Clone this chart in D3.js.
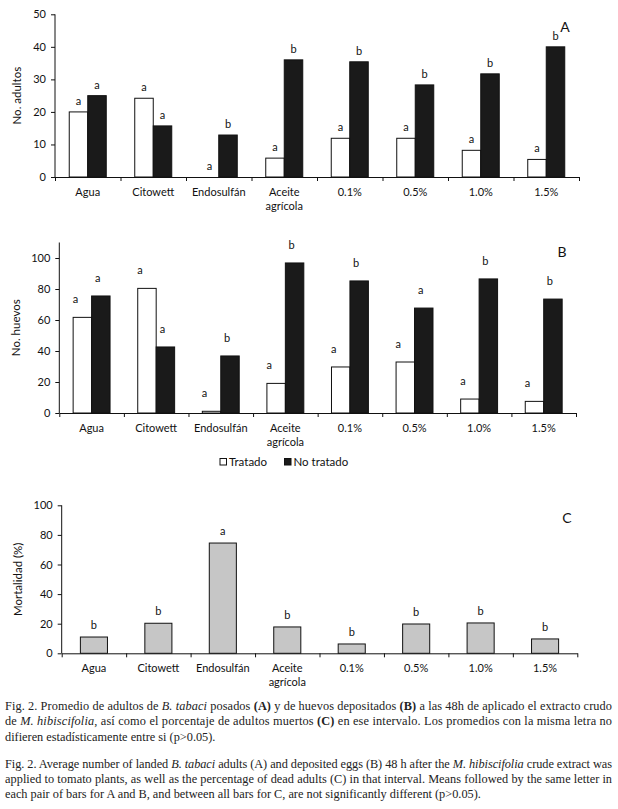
<!DOCTYPE html>
<html>
<head>
<meta charset="utf-8">
<script src="https://cdn.jsdelivr.net/npm/d3@7"></script>
<style>
  body { margin: 0; background: #fff; }
  svg text { font-family: Lato, 'Open Sans', sans-serif; fill: #111; }
  .caption text { font-family: 'Liberation Serif', 'Times New Roman', serif; font-size: 12.3px; fill: #222; }
</style>
</head>
<body>
<script>
// Fig. 2 - B. tabaci adults, eggs and mortality

const categories = ['Agua', 'Citowett', 'Endosulfán', 'Aceite agrícola', '0.1%', '0.5%', '1.0%', '1.5%']

const adultosTratado = [20, 24.2, 0, 5.8, 11.9, 11.9, 8.2, 5.4]
const adultosNoTratado = [25, 15.7, 12.9, 36, 35.4, 28.3, 31.7, 40]
const adultosLetrasT = ['a', 'a', 'a', 'a', 'a', 'a', 'a', 'a']
const adultosLetrasN = ['a', 'a', 'b', 'b', 'b', 'b', 'b', 'b']
const adultosTicks = [0, 10, 20, 30, 40, 50]

const huevosTratado = [61.7, 80.4, 1.1, 19.1, 29.7, 32.9, 9, 7.5]
const huevosNoTratado = [75.5, 42.6, 36.8, 96.8, 85.2, 67.7, 86.5, 73.5]
const huevosLetrasT = ['a', 'a', 'a', 'a', 'a', 'a', 'a', 'a']
const huevosLetrasN = ['a', 'a', 'b', 'b', 'b', 'a', 'b', 'b']
const huevosTicks = [0, 20, 40, 60, 80, 100]

const mortalidad = [11, 20.3, 74.5, 17.8, 6.3, 19.8, 20.5, 9.7]
const mortalidadLetras = ['b', 'b', 'a', 'b', 'b', 'b', 'b', 'b']
const mortalidadTicks = [0, 20, 40, 60, 80, 100]

const legendLabels = ['Tratado', 'No tratado']

const W = 618
const H = 809

const svg = d3.select('body').append('svg')
  .attr('width', W)
  .attr('height', H)

svg.append('rect').attr('width', W).attr('height', H).attr('fill', '#fff')

function drawFrame (cfg) {
  const g = svg.append('g')
  const x = d3.scaleBand().domain(categories).range([cfg.left, cfg.right])
  const y = d3.scaleLinear().domain([0, cfg.max]).range([cfg.bottom, cfg.top])

  // y axis
  const yAxis = g.append('g')
    .attr('transform', `translate(${cfg.left},0)`)
    .call(d3.axisLeft(y).tickValues(cfg.ticks).tickSize(4).tickSizeOuter(0).tickPadding(5))
  yAxis.selectAll('text').attr('font-size', 11).attr('font-family', null)
  yAxis.select('.domain').attr('d', `M0,${y(0)}V${y(cfg.max)}`)

  // x axis, ticks at category boundaries
  const xb = d3.scaleLinear().domain([0, categories.length]).range([cfg.left, cfg.right])
  const xAxis = g.append('g')
    .attr('transform', `translate(0,${cfg.bottom})`)
    .call(d3.axisBottom(xb).ticks(categories.length).tickSize(4).tickSizeOuter(0).tickFormat(''))
  xAxis.selectAll('path, line').attr('stroke', '#111')
  yAxis.selectAll('path, line').attr('stroke', '#111')

  // category labels
  const lab = g.append('g').selectAll('text').data(categories).join('text')
    .attr('x', d => x(d) + x.bandwidth() / 2)
    .attr('y', cfg.bottom + 18.5)
    .attr('text-anchor', 'middle')
    .attr('font-size', 11)
  lab.each(function (d) {
    const words = d.split(' ')
    d3.select(this).selectAll('tspan').data(words).join('tspan')
      .attr('x', x(d) + x.bandwidth() / 2)
      .attr('dy', (w, i) => i === 0 ? 0 : 14.5)
      .text(w => w)
  })

  // y title
  g.append('text')
    .attr('transform', `translate(${cfg.titleX},${(cfg.top + cfg.bottom) / 2}) rotate(-90)`)
    .attr('text-anchor', 'middle')
    .attr('font-size', 11.5)
    .text(cfg.title)

  // panel letter
  g.append('text')
    .attr('x', cfg.letterX)
    .attr('y', cfg.letterY)
    .attr('text-anchor', 'middle')
    .attr('font-size', 14)
    .text(cfg.letter)

  return { g, x, y }
}

function drawPairs (cfg, tratado, noTratado, letrasT, letrasN) {
  const { g, x, y } = drawFrame(cfg)
  const x1 = d3.scaleBand().domain(['t', 'n']).range([0, x.bandwidth()]).paddingOuter(cfg.outer)
  const rows = categories.map((c, i) => ({ c, t: tratado[i], n: noTratado[i], lt: letrasT[i], ln: letrasN[i] }))

  const bars = g.append('g')
  bars.selectAll('rect.t').data(rows.filter(d => d.t > 0)).join('rect')
    .attr('class', 't')
    .attr('x', d => x(d.c) + x1('t'))
    .attr('y', d => y(d.t))
    .attr('width', x1.bandwidth())
    .attr('height', d => y(0) - y(d.t))
    .attr('fill', '#fff')
    .attr('stroke', '#111')
    .attr('stroke-width', 1)
  bars.selectAll('rect.n').data(rows).join('rect')
    .attr('class', 'n')
    .attr('x', d => x(d.c) + x1('n'))
    .attr('y', d => y(d.n))
    .attr('width', x1.bandwidth())
    .attr('height', d => y(0) - y(d.n))
    .attr('fill', '#1a1a1a')
    .attr('stroke', '#111')
    .attr('stroke-width', 1)

  const labels = g.append('g').attr('font-size', 11).attr('text-anchor', 'middle')
  labels.selectAll('text.t').data(rows).join('text')
    .attr('class', 't')
    .attr('x', d => x(d.c) + x1('t') + x1.bandwidth() / 2 + cfg.shiftT)
    .attr('y', d => y(d.t) - cfg.gap)
    .text(d => d.lt)
  labels.selectAll('text.n').data(rows).join('text')
    .attr('class', 'n')
    .attr('x', d => x(d.c) + x1('n') + x1.bandwidth() / 2 + cfg.shiftN)
    .attr('y', d => y(d.n) - cfg.gap)
    .text(d => d.ln)
}

// A
drawPairs({
  left: 55, right: 579, bottom: 177, top: 14.3, max: 50, ticks: adultosTicks,
  title: 'No. adultos', titleX: 21, letter: 'A', letterX: 565, letterY: 31.5,
  outer: 0.77, gap: 7, shiftT: 0, shiftN: 0
}, adultosTratado, adultosNoTratado, adultosLetrasT, adultosLetrasN)

// B
drawPairs({
  left: 59.3, right: 576, bottom: 413, top: 242.5, max: 110, ticks: huevosTicks,
  title: 'No. huevos', titleX: 20, letter: 'B', letterX: 562, letterY: 257,
  outer: 0.75, gap: 14, shiftT: -7, shiftN: -3
}, huevosTratado, huevosNoTratado, huevosLetrasT, huevosLetrasN)

// legend
const legend = svg.append('g').attr('font-size', 11.5)
const legendX = [220, 284.5]
const legendFill = ['#fff', '#1a1a1a']
legendLabels.forEach((l, i) => {
  legend.append('rect')
    .attr('x', legendX[i]).attr('y', 458.5)
    .attr('width', 6.5).attr('height', 6.5)
    .attr('fill', legendFill[i]).attr('stroke', '#111')
  legend.append('text')
    .attr('x', legendX[i] + 9).attr('y', 465.5)
    .text(l)
})

// C
;(function () {
  const cfg = {
    left: 61.7, right: 577.3, bottom: 653.3, top: 505.3, max: 100, ticks: mortalidadTicks,
    title: 'Mortalidad (%)', titleX: 22, letter: 'C', letterX: 567, letterY: 523
  }
  const { g, x, y } = drawFrame(cfg)
  const xc = x.copy().paddingInner(0.58).paddingOuter(0.29)
  const rows = categories.map((c, i) => ({ c, v: mortalidad[i], l: mortalidadLetras[i] }))
  g.append('g').selectAll('rect').data(rows).join('rect')
    .attr('x', d => xc(d.c))
    .attr('y', d => y(d.v))
    .attr('width', xc.bandwidth())
    .attr('height', d => y(0) - y(d.v))
    .attr('fill', '#c6c6c6')
    .attr('stroke', '#111')
  g.append('g').attr('font-size', 11).attr('text-anchor', 'middle')
    .selectAll('text').data(rows).join('text')
    .attr('x', d => xc(d.c) + xc.bandwidth() / 2)
    .attr('y', d => y(d.v) - 8)
    .text(d => d.l)
})()

// caption
const captionLines = [
  { y: 710, justify: true, parts: [['Fig. 2. Promedio de adultos de '], ['B. tabaci', 'i'], [' posados '], ['(A)', 'b'], [' y de huevos depositados '], ['(B)', 'b'], [' a las 48h de aplicado el extracto crudo']] },
  { y: 725, justify: true, parts: [['de '], ['M. hibiscifolia', 'i'], [', así como el porcentaje de adultos muertos '], ['(C)', 'b'], [' en ese intervalo. Los promedios con la misma letra no']] },
  { y: 740.5, justify: false, parts: [['difieren estadísticamente entre si (p>0.05).']] },
  { y: 767.5, justify: true, parts: [['Fig. 2. Average number of landed '], ['B. tabaci', 'i'], [' adults (A) and deposited eggs (B) 48 h after the '], ['M. hibiscifolia', 'i'], [' crude extract was']] },
  { y: 782.5, justify: true, parts: [['applied to tomato plants, as well as the percentage of dead adults (C) in that interval. Means followed by the same letter in']] },
  { y: 797.5, justify: false, parts: [['each pair of bars for A and B, and between all bars for C, are not significantly different (p>0.05).']] }
]

const caption = svg.append('g').attr('class', 'caption')
captionLines.forEach(line => {
  const t = caption.append('text')
    .attr('x', 5)
    .attr('y', line.y)
    .attr('xml:space', 'preserve')
  if (line.justify) t.attr('textLength', 607).attr('lengthAdjust', 'spacing')
  line.parts.forEach(p => {
    t.append('tspan')
      .attr('font-style', p[1] === 'i' ? 'italic' : null)
      .attr('font-weight', p[1] === 'b' ? 'bold' : null)
      .text(p[0])
  })
})
</script>
</body>
</html>
